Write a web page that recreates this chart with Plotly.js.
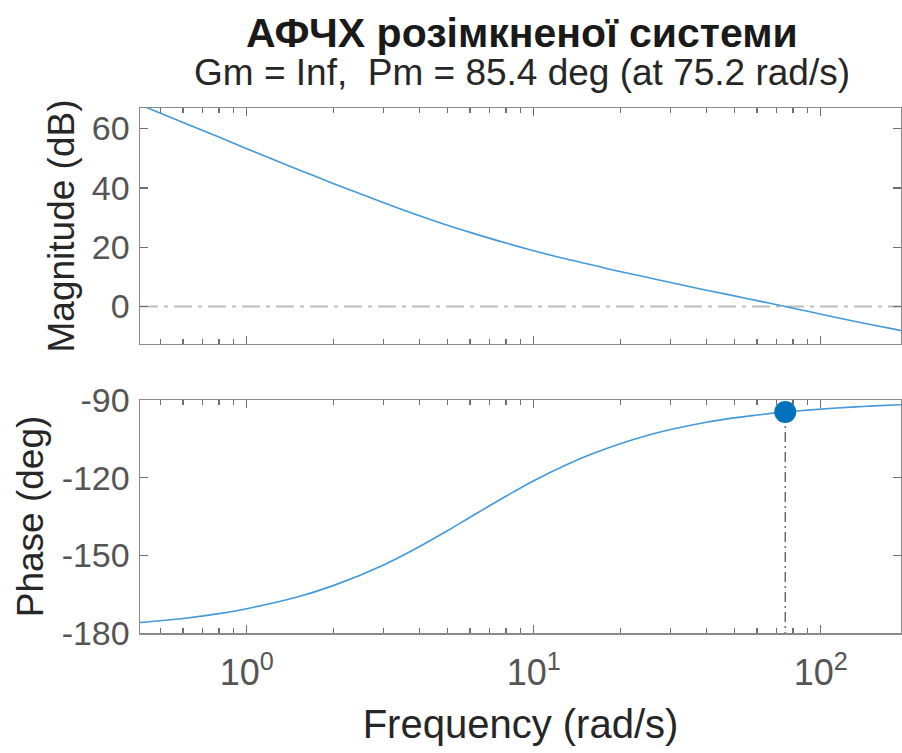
<!DOCTYPE html>
<html>
<head>
<meta charset="utf-8">
<script src="https://cdn.plot.ly/plotly-3.0.1.min.js"></script>
<style>html,body{margin:0;padding:0;background:#fff;}#chart{width:902px;height:753px;}</style>
</head>
<body>
<div id="chart"></div>
<script>
// Frequency response
const freq = [0.42, 0.6, 0.8, 1, 1.5, 2, 3, 4, 5, 6, 8, 10, 13, 16, 20, 25, 30, 40, 50, 60, 75.2, 90, 110, 140, 180, 195];
const magDb = [68.2, 62.0, 57.1, 53.2, 46.3, 41.5, 35.0, 30.6, 27.4, 25.0, 21.4, 18.8, 16.0, 14.0, 11.8, 9.8, 8.1, 5.5, 3.6, 2.0, 0.0, -1.6, -3.4, -5.5, -7.6, -8.3];
const phaseDeg = [-176.0, -174.4, -172.5, -170.6, -166.1, -161.7, -153.7, -146.6, -140.5, -135.3, -127.2, -121.2, -115.0, -110.8, -106.9, -103.6, -101.4, -98.6, -96.9, -95.8, -94.6, -93.9, -93.2, -92.5, -91.9, -91.8];

// Phase margin point
const pmFreq = [75.2];
const pmPhase = [-94.6];
const pmLineFreq = [75.2, 75.2];
const pmLinePhase = [-94.6, -180];

// Tick labels
const xTickVals = [1, 10, 100];
const xTickText = ['10<sup>0</sup>', '10<sup>1</sup>', '10<sup>2</sup>'];
const xMinorVals = [0.5, 0.6, 0.7, 0.8, 0.9, 2, 3, 4, 5, 6, 7, 8, 9, 20, 30, 40, 50, 60, 70, 80, 90];
const magTickVals = [0, 20, 40, 60];
const magTickText = ['0', '20', '40', '60'];
const phaseTickVals = [-180, -150, -120, -90];
const phaseTickText = ['-180', '-150', '-120', '-90'];

const titleText = 'АФЧХ розімкненої системи';
const subtitleText = 'Gm = Inf, \u00a0Pm = 85.4 deg (at 75.2 rad/s)';
const xTitle = 'Frequency (rad/s)';
const magTitle = 'Magnitude (dB)';
const phaseTitle = 'Phase (deg)';

const FONT = 'Liberation Sans, Arial, sans-serif';
const lineBlue = '#4499d8';
const axisGray = '#8a8a8a';
const tickFontColor = '#555555';

const traces = [
  {x: freq, y: magDb, xaxis: 'x', yaxis: 'y', mode: 'lines', line: {color: lineBlue, width: 1.6, shape: 'spline'}, hoverinfo: 'skip'},
  {x: freq, y: phaseDeg, xaxis: 'x2', yaxis: 'y2', mode: 'lines', line: {color: lineBlue, width: 1.6, shape: 'spline'}, hoverinfo: 'skip'},
  {x: pmLineFreq, y: pmLinePhase, xaxis: 'x2', yaxis: 'y2', mode: 'lines', line: {color: '#555555', width: 1.3, dash: '10px,4px,2px,4px'}, hoverinfo: 'skip'},
  {x: pmFreq, y: pmPhase, xaxis: 'x2', yaxis: 'y2', mode: 'markers', marker: {color: '#0072BD', size: 22}, hoverinfo: 'skip'}
];

const xRange = [-0.3718, 2.2795];

function xAxisBase(showLabels) {
  return {
    type: 'log', range: xRange, showgrid: false, zeroline: false,
    showline: true, linecolor: axisGray, linewidth: 1.5, mirror: 'ticks',
    ticks: 'inside', ticklen: 8, tickwidth: 1.3, tickcolor: '#6e6e6e',
    tickvals: xTickVals, ticktext: xTickText, showticklabels: showLabels,
    tickfont: {family: FONT, size: 36, color: tickFontColor},
    ticklabelstandoff: 7,
    minor: {tickvals: xMinorVals, ticks: 'inside', ticklen: 5, tickwidth: 1.2, tickcolor: '#6e6e6e', showgrid: false}
  };
}

function yAxisBase(domain, range, vals, text, title) {
  return {
    domain: domain, range: range, showgrid: false, zeroline: false,
    showline: true, linecolor: axisGray, linewidth: 1.5, mirror: 'ticks',
    ticks: 'inside', ticklen: 8, tickwidth: 1.3, tickcolor: '#6e6e6e',
    tickvals: vals, ticktext: text, tickfont: {family: FONT, size: 34, color: tickFontColor},
    ticklabelstandoff: 2,
    title: {text: title, font: {family: FONT, size: 37, color: '#262626'}, standoff: 6}
  };
}

const layout = {
  width: 902, height: 753,
  margin: {l: 140, r: 1, t: 108, b: 120},
  paper_bgcolor: '#ffffff', plot_bgcolor: '#ffffff',
  showlegend: false,
  font: {family: FONT, color: '#262626'},
  xaxis: Object.assign(xAxisBase(false), {anchor: 'y', matches: 'x2'}),
  xaxis2: Object.assign(xAxisBase(true), {anchor: 'y2',
    title: {text: xTitle, font: {family: FONT, size: 40, color: '#262626'}, standoff: 18}}),
  yaxis: yAxisBase([0.5505, 1], [-12.6, 66.9], magTickVals, magTickText, magTitle),
  yaxis2: yAxisBase([0, 0.4438], [-180, -90], phaseTickVals, phaseTickText, phaseTitle),
  shapes: [
    {type: 'line', xref: 'x domain', yref: 'y', x0: 0, x1: 1, y0: 0, y1: 0,
     line: {color: '#bdbdbd', width: 2, dash: '18px,6px,4px,6px'}, layer: 'below'}
  ],
  annotations: [
    {text: '<b>' + titleText + '</b>', xref: 'paper', yref: 'paper', x: 0.502, y: 1.1429,
     xanchor: 'center', yanchor: 'middle', showarrow: false, font: {family: FONT, size: 41, color: '#1a1a1a'}},
    {text: subtitleText, xref: 'paper', yref: 'paper', x: 0.502, y: 1.0667,
     xanchor: 'center', yanchor: 'middle', showarrow: false, font: {family: FONT, size: 37, color: '#262626'}}
  ]
};

Plotly.newPlot('chart', traces, layout, {staticPlot: true, displayModeBar: false});
</script>
</body>
</html>
